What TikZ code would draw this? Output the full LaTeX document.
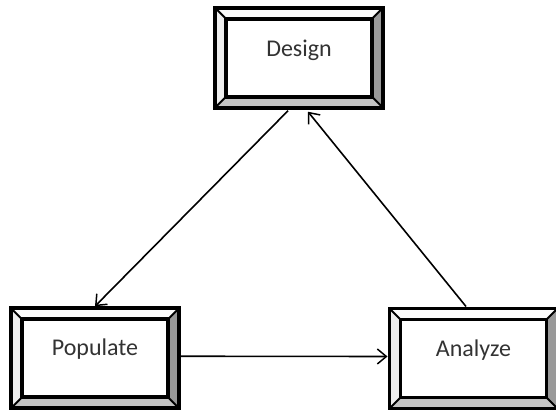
\documentclass[tikz,border=0pt]{standalone}
\usepackage{fontspec}
\setmainfont{Carlito}
\usetikzlibrary{arrows.meta}
\definecolor{bvtop}{HTML}{FBFBFB}
\definecolor{bvleft}{HTML}{EEEEEE}
\definecolor{bvright}{HTML}{999999}
\definecolor{bvbottom}{HTML}{C4C4C4}
\newcommand\bd{11pt}
\newcommand\bevelize[1]{%
  \fill[bvtop] (#1.north west) -- (#1.north east) -- ([shift={(-\bd,-\bd)}]#1.north east) -- ([shift={(\bd,-\bd)}]#1.north west) -- cycle;
  \fill[bvleft] (#1.north west) -- ([shift={(\bd,-\bd)}]#1.north west) -- ([shift={(\bd,\bd)}]#1.south west) -- (#1.south west) -- cycle;
  \fill[bvright] (#1.north east) -- (#1.south east) -- ([shift={(-\bd,\bd)}]#1.south east) -- ([shift={(-\bd,-\bd)}]#1.north east) -- cycle;
  \fill[bvbottom] (#1.south west) -- ([shift={(\bd,\bd)}]#1.south west) -- ([shift={(-\bd,\bd)}]#1.south east) -- (#1.south east) -- cycle;
  \draw[bvdiag] (#1.north west) -- ([shift={(\bd,-\bd)}]#1.north west);
  \draw[bvdiag] (#1.north east) -- ([shift={(-\bd,-\bd)}]#1.north east);
  \draw[bvdiag] (#1.south west) -- ([shift={(\bd,\bd)}]#1.south west);
  \draw[bvdiag] (#1.south east) -- ([shift={(-\bd,\bd)}]#1.south east);
  \draw[bvedge] ([shift={(\bd,-\bd)}]#1.north west) rectangle ([shift={(-\bd,\bd)}]#1.south east);
  \draw[bvedge] (#1.north west) rectangle (#1.south east);
}
\tikzset{
  boxnode/.style={rectangle, minimum width=168pt, minimum height=100pt, inner sep=0pt, outer sep=0pt, fill=white},
  bvdiag/.style={draw=black, line width=2pt},
  bvedge/.style={draw=black, line width=3.6pt},
  lbl/.style={anchor=base, inner sep=0pt, font=\fontsize{24}{28}\selectfont, text=black!80},
  conn/.style={draw=black, line width=1.6pt, -{Straight Barb[length=9pt,width=15pt,line width=1.5pt]}}
}
\begin{document}
\begin{tikzpicture}[x=1pt,y=1pt]
\useasboundingbox (0,0) rectangle (556,411);
\node[boxnode] (D) at (299,353.25) {};
\node[boxnode] (P) at (95,52.75) {};
\node[boxnode] (A) at (473.5,52.5) {};
\bevelize{D}
\bevelize{P}
\bevelize{A}
\node[lbl] (Dt) at ([yshift=1.5pt]D.center) {Design};
\node[lbl] (Pt) at ([yshift=3pt]P.center) {Populate};
\node[lbl] (At) at ([yshift=1.5pt]A.center) {Analyze};
\draw[conn] ([shift={(-11pt,-3pt)}]D.south) -- ([yshift=2pt]P.north);
\draw[conn] ([shift={(-7.5pt,2pt)}]A.north) -- ([shift={(9pt,-4pt)}]D.south);
\draw[conn] ([shift={(2pt,2pt)}]P.east) -- ([shift={(-2pt,2pt)}]A.west);
\end{tikzpicture}
\end{document}
